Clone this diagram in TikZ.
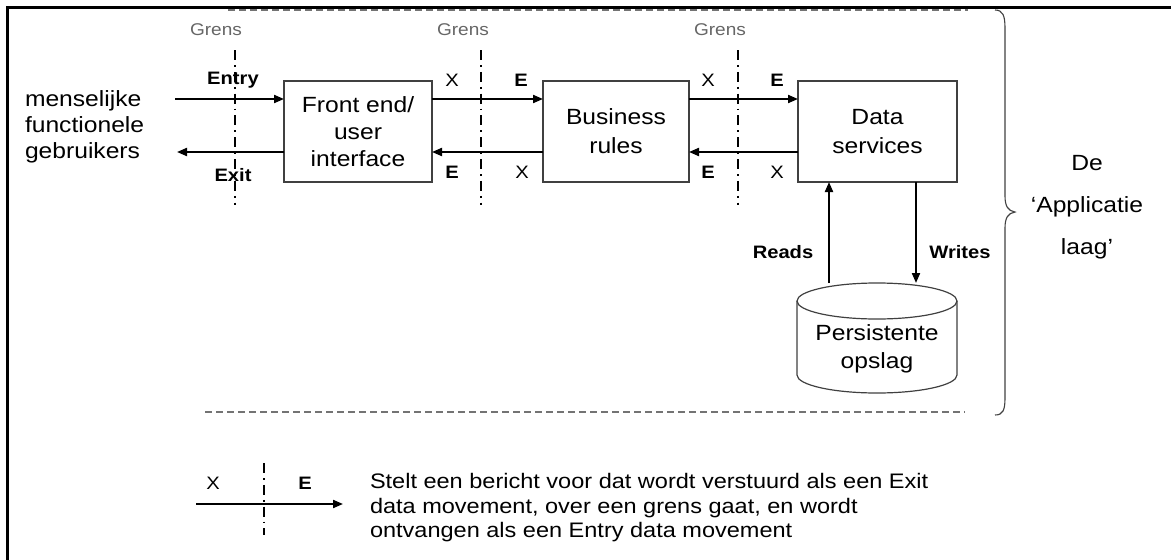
\documentclass[tikz,border=0pt]{standalone}
\usepackage{fontspec}
\setmainfont{Liberation Sans}[FakeStretch=1.12]
\usetikzlibrary{arrows.meta,calc}

\definecolor{boxline}{gray}{0.25}
\definecolor{dashgray}{gray}{0.45}
\definecolor{labelgray}{gray}{0.40}

\begin{document}
\begin{tikzpicture}[x=1pt,y=-1pt,
  every node/.style={inner sep=0pt,outer sep=0pt},
  box/.style={draw=boxline,line width=1.2pt,minimum height=101pt,align=center,
    font=\fontsize{22}{27}\selectfont},
  flow/.style={line width=2pt,-{Triangle[length=10pt,width=8pt]}},
  grensline/.style={line width=1.6pt,dash pattern=on 10pt off 5pt on 1.8pt off 5pt},
  layerline/.style={line width=1.2pt,dashgray,dash pattern=on 7pt off 4pt},
  grenslabel/.style={labelgray,font=\fontsize{17}{17}\selectfont},
  ioreg/.style={font=\fontsize{18}{18}\selectfont},
  iobold/.style={font=\fontsize{18}{18}\selectfont\bfseries},
  bigtext/.style={font=\fontsize{22}{26}\selectfont}
]
\useasboundingbox (0,0) rectangle (1171,560);

% outer frame (top and left edges)
\draw[line width=3pt] (1171,7) -- (7,7) -- (7,560);

% layer limits
\draw[layerline] (228,10) -- (968,10);
\draw[layerline] (205,412) -- (965,412);

% brace around the application layer
\draw[line width=1.1pt,black!75]
  (995,10) .. controls (1003,10) and (1005,16) .. (1005,28) -- (1005,196)
  .. controls (1005,206) and (1008,211) .. (1015,212)
  .. controls (1008,213) and (1005,218) .. (1005,228) -- (1005,398)
  .. controls (1005,410) and (1003,415) .. (995,415);
\node[bigtext,align=center,font=\fontsize{22}{42}\selectfont] (layer) at (1087,207)
  {De\\‘Applicatie\\laag’};

% components
\node[box,minimum width=148pt] (fe) at (358,131.5) {Front end/\\user\\interface};
\node[box,minimum width=146pt,font=\fontsize{22}{29}\selectfont] (br) at (616,131.5) {Business\\rules};
\node[box,minimum width=159pt,font=\fontsize{22}{29}\selectfont] (ds) at (877.5,131.5) {Data\\services};

% users
\node[bigtext,anchor=west,align=left] (users) at (25,127)
  {menselijke\\functionele\\gebruikers};

% boundaries
\foreach \n/\gx/\lx in {g1/235/216, g2/481/463, g3/738/720} {
  \coordinate (\n top) at (\gx,50);
  \coordinate (\n bot) at (\gx,205);
  \draw[grensline] (\n top) -- (\n bot);
  \node[grenslabel] (\n label) at (\lx,30) {Grens};
}

% message rows
\coordinate (rowin) at (0,99);
\coordinate (rowout) at (0,152);
\coordinate (userin) at (175,99);
\coordinate (userout) at (177,152);

\draw[flow] (userin) -- (fe.west |- rowin);
\draw[flow] (fe.west |- rowout) -- (userout);
\draw[flow] (fe.east |- rowin) -- (br.west |- rowin);
\draw[flow] (br.west |- rowout) -- (fe.east |- rowout);
\draw[flow] (br.east |- rowin) -- (ds.west |- rowin);
\draw[flow] (ds.west |- rowout) -- (br.east |- rowout);

\node[iobold] (entry) at (233,80) {Entry};
\node[iobold] (exit) at (233,175) {Exit};
\node[ioreg] (x1t) at (452,80) {X};
\node[iobold] (e1t) at (521,80) {E};
\node[iobold] (e1b) at (452,172) {E};
\node[ioreg] (x1b) at (522,172) {X};
\node[ioreg] (x2t) at (708,80) {X};
\node[iobold] (e2t) at (777,80) {E};
\node[iobold] (e2b) at (708,172) {E};
\node[ioreg] (x2b) at (777,172) {X};

% persistent storage
\draw[boxline,line width=1.2pt,fill=white]
  (797,301) -- (797,375) arc[start angle=180,end angle=0,x radius=80,y radius=18] -- (957,301);
\draw[boxline,line width=1.2pt] (877,301) ellipse[x radius=80,y radius=18];
\coordinate (dbtop) at (877,283);
\node[bigtext,align=center,font=\fontsize{22}{28}\selectfont] (db) at (877,349) {Persistente\\opslag};

\coordinate (readx) at (829,0);
\coordinate (writex) at (916,0);
\draw[flow] (readx |- dbtop) -- (readx |- ds.south);
\draw[flow] (writex |- ds.south) -- (writex |- dbtop);
\node[iobold] (reads) at (783,252) {Reads};
\node[iobold] (writes) at (960,252) {Writes};

% legend
\coordinate (lgtop) at (264,463);
\coordinate (lgbot) at (264,535);
\coordinate (lgfrom) at (196,504);
\coordinate (lgto) at (343,504);
\draw[grensline] (lgtop) -- (lgbot);
\draw[flow] (lgfrom) -- (lgto);
\node[ioreg] (lgx) at (213,483) {X};
\node[iobold] (lge) at (305,483) {E};
\node[anchor=west,align=left,font=\fontsize{21}{24.5}\selectfont] (legend) at (370,508)
  {Stelt een bericht voor dat wordt verstuurd als een Exit\\
   data movement, over een grens gaat, en wordt\\
   ontvangen als een Entry data movement};
\end{tikzpicture}
\end{document}
